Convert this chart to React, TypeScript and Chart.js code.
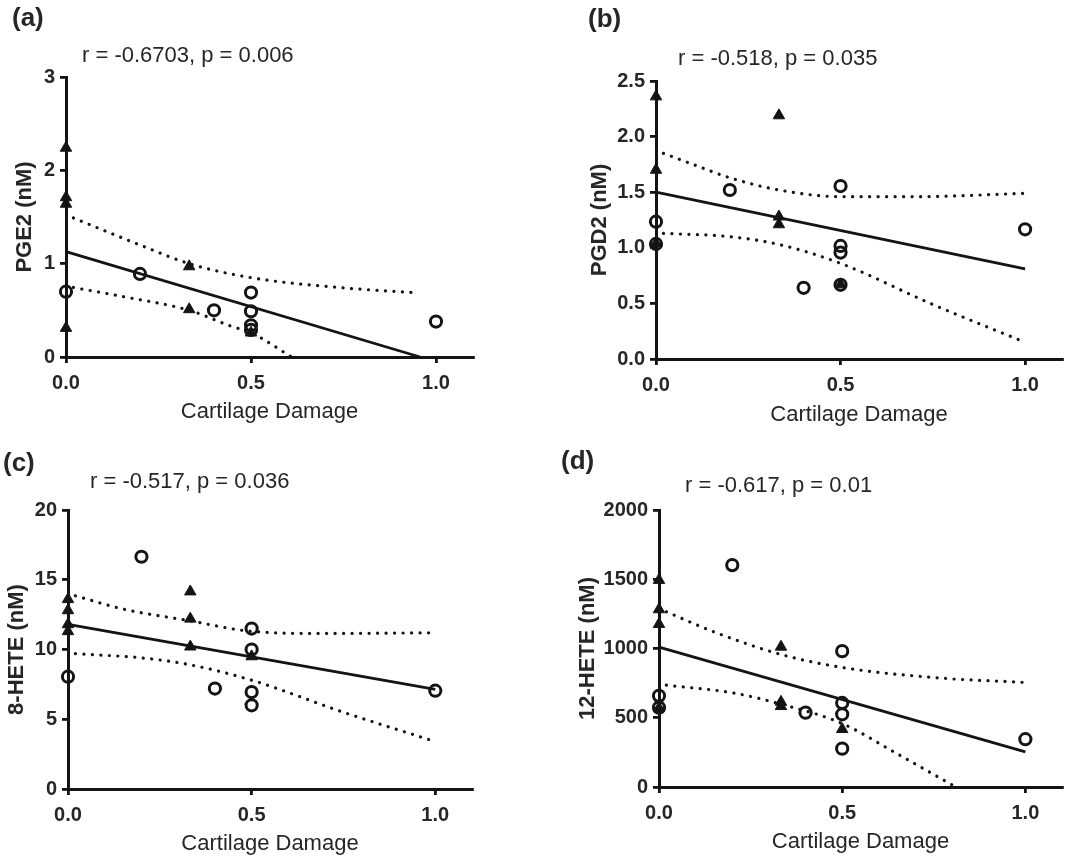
import React, { useEffect, useRef } from "react";
import { Chart, registerables } from "chart.js";
Chart.register(...registerables);

const FONT = "'Liberation Sans', Arial, Helvetica, sans-serif";
const TEXT = "#262626";
const INK = "#141414";

// ---------- shared ----------
const xTickValues = [0, 0.5, 1.0];
const xTickLabels = ["0.0", "0.5", "1.0"];
const xTitle = "Cartilage Damage";

// ---------- (a) PGE2 ----------
const aTriX = [0, 0, 0, 0, 0.333, 0.333, 0.5];
const aTriY = [2.24, 1.71, 1.64, 0.31, 0.97, 0.51, 0.26];
const aCircX = [0, 0.2, 0.4, 0.5, 0.5, 0.5, 0.5, 1.0];
const aCircY = [0.7, 0.89, 0.5, 0.69, 0.49, 0.34, 0.29, 0.38];
const aFitX = [0, 0.957];
const aFitY = [1.13, 0];
const aUpX = [0.02, 0.1, 0.2, 0.333, 0.5, 0.72, 0.94];
const aUpY = [1.49, 1.36, 1.2, 1.0, 0.85, 0.75, 0.69];
const aLoX = [0.02, 0.15, 0.333, 0.446, 0.5, 0.61];
const aLoY = [0.745, 0.65, 0.5, 0.33, 0.26, 0.0];
const aYTicks = [0, 1, 2, 3];
const aYLabels = ["0", "1", "2", "3"];

// ---------- (b) PGD2 ----------
const bTriX = [0, 0, 0, 0.333, 0.333, 0.333, 0.5];
const bTriY = [2.36, 1.7, 1.04, 2.19, 1.28, 1.21, 0.67];
const bCircX = [0, 0, 0.2, 0.4, 0.5, 0.5, 0.5, 0.5, 1.0];
const bCircY = [1.235, 1.035, 1.52, 0.64, 1.555, 1.017, 0.957, 0.667, 1.166];
const bFitX = [0, 1.0];
const bFitY = [1.5, 0.81];
const bUpX = [0.02, 0.1, 0.2, 0.333, 0.5, 0.7, 1.0];
const bUpY = [1.85, 1.75, 1.63, 1.52, 1.46, 1.46, 1.49];
const bLoX = [0.02, 0.2, 0.333, 0.5, 0.75, 1.0];
const bLoY = [1.13, 1.1, 1.03, 0.86, 0.49, 0.15];
const bYTicks = [0, 0.5, 1.0, 1.5, 2.0, 2.5];
const bYLabels = ["0.0", "0.5", "1.0", "1.5", "2.0", "2.5"];

// ---------- (c) 8-HETE ----------
const cTriX = [0, 0, 0, 0, 0.333, 0.333, 0.333, 0.5];
const cTriY = [13.6, 12.8, 11.8, 11.3, 14.15, 12.2, 10.2, 9.5];
const cCircX = [0, 0.2, 0.4, 0.5, 0.5, 0.5, 0.5, 1.0];
const cCircY = [8.05, 16.65, 7.2, 11.5, 10.0, 6.95, 6.0, 7.05];
const cFitX = [0, 1.0];
const cFitY = [11.8, 7.15];
const cUpX = [0.02, 0.15, 0.333, 0.5, 0.7, 1.0];
const cUpY = [13.85, 12.9, 12.05, 11.3, 11.15, 11.2];
const cLoX = [0.02, 0.2, 0.333, 0.5, 0.75, 1.0];
const cLoY = [9.7, 9.4, 8.9, 7.8, 5.5, 3.4];
const cYTicks = [0, 5, 10, 15, 20];
const cYLabels = ["0", "5", "10", "15", "20"];

// ---------- (d) 12-HETE ----------
const dTriX = [0, 0, 0, 0, 0.333, 0.333, 0.333, 0.5];
const dTriY = [1494, 1282, 1176, 570, 1012, 614, 583, 417];
const dCircX = [0, 0, 0.2, 0.4, 0.5, 0.5, 0.5, 0.5, 1.0];
const dCircY = [658, 573, 1602, 537, 981, 607, 525, 277, 345];
const dFitX = [0, 1.0];
const dFitY = [1010, 253];
const dUpX = [0.02, 0.15, 0.333, 0.5, 0.75, 1.0];
const dUpY = [1265, 1120, 957, 863, 790, 755];
const dLoX = [0.02, 0.2, 0.333, 0.5, 0.65, 0.81];
const dLoY = [735, 680, 598, 458, 240, 0];
const dYTicks = [0, 500, 1000, 1500, 2000];
const dYLabels = ["0", "500", "1000", "1500", "2000"];

const zip = (xs: number[], ys: number[]) => xs.map((x, i) => ({ x, y: ys[i] }));

type Panel = {
  key: string;
  label: string;
  stat: string;
  yTitle: string;
  left: number;
  top: number;
  yMax: number;
  yTicks: number[];
  yLabels: string[];
  tri: [number[], number[]];
  circ: [number[], number[]];
  fit: [number[], number[]];
  up: [number[], number[]];
  lo: [number[], number[]];
  padTop: number;
  padRight: number;
  yAxisW: number;
  xAxisH: number;
  yTitlePad: number;
  xTitlePad: number;
  labelPos: [number, number];
  statPos: [number, number];
};

const panels: Panel[] = [
  {
    key: "a", label: "(a)", stat: "r = -0.6703, p = 0.006", yTitle: "PGE2 (nM)",
    left: 0, top: 0, yMax: 3, yTicks: aYTicks, yLabels: aYLabels,
    tri: [aTriX, aTriY], circ: [aCircX, aCircY], fit: [aFitX, aFitY], up: [aUpX, aUpY], lo: [aLoX, aLoY],
    padTop: 77, padRight: 67, yAxisW: 66, xAxisH: 73, yTitlePad: 12, xTitlePad: 5,
    labelPos: [12, 4], statPos: [82, 44],
  },
  {
    key: "b", label: "(b)", stat: "r = -0.518, p = 0.035", yTitle: "PGD2 (nM)",
    left: 545, top: 0, yMax: 2.5, yTicks: bYTicks, yLabels: bYLabels,
    tri: [bTriX, bTriY], circ: [bCircX, bCircY], fit: [bFitX, bFitY], up: [bUpX, bUpY], lo: [bLoX, bLoY],
    padTop: 81, padRight: 23, yAxisW: 111, xAxisH: 71, yTitlePad: 42, xTitlePad: 2,
    labelPos: [588, 5], statPos: [678, 47],
  },
  {
    key: "c", label: "(c)", stat: "r = -0.517, p = 0.036", yTitle: "8-HETE (nM)",
    left: 0, top: 430, yMax: 20, yTicks: cYTicks, yLabels: cYLabels,
    tri: [cTriX, cTriY], circ: [cCircX, cCircY], fit: [cFitX, cFitY], up: [cUpX, cUpY], lo: [cLoX, cLoY],
    padTop: 80, padRight: 68, yAxisW: 68, xAxisH: 71, yTitlePad: 4, xTitlePad: 3,
    labelPos: [3, 449], statPos: [90, 470],
  },
  {
    key: "d", label: "(d)", stat: "r = -0.617, p = 0.01", yTitle: "12-HETE (nM)",
    left: 545, top: 430, yMax: 2000, yTicks: dYTicks, yLabels: dYLabels,
    tri: [dTriX, dTriY], circ: [dCircX, dCircY], fit: [dFitX, dFitY], up: [dUpX, dUpY], lo: [dLoX, dLoY],
    padTop: 80, padRight: 23, yAxisW: 114, xAxisH: 73, yTitlePad: 30, xTitlePad: 5,
    labelPos: [561, 447], statPos: [685, 474],
  },
];

function makeConfig(p: Panel): any {
  const dotted = {
    showLine: true,
    pointRadius: 0,
    borderColor: INK,
    borderWidth: 3.2,
    borderDash: [0.1, 8.4],
    borderCapStyle: "round",
    cubicInterpolationMode: "monotone",
    clip: false,
  };
  return {
    type: "scatter",
    data: {
      datasets: [
        {
          data: zip(p.tri[0], p.tri[1]),
          pointStyle: "triangle",
          pointRadius: 6.6,
          backgroundColor: INK,
          borderColor: INK,
          borderWidth: 1,
          showLine: false,
          clip: false,
        },
        {
          data: zip(p.circ[0], p.circ[1]),
          pointStyle: "circle",
          pointRadius: 5.6,
          backgroundColor: "rgba(0,0,0,0)",
          borderColor: INK,
          borderWidth: 3,
          showLine: false,
          clip: false,
        },
        {
          data: zip(p.fit[0], p.fit[1]),
          showLine: true,
          pointRadius: 0,
          borderColor: INK,
          borderWidth: 2.8,
          clip: false,
        },
        { ...dotted, data: zip(p.up[0], p.up[1]) },
        { ...dotted, data: zip(p.lo[0], p.lo[1]) },
      ],
    },
    options: {
      responsive: false,
      animation: false,
      devicePixelRatio: 1,
      events: [],
      layout: { padding: { left: 0, top: p.padTop, right: p.padRight, bottom: 0 } },
      plugins: { legend: { display: false }, tooltip: { enabled: false }, title: { display: false } },
      scales: {
        x: {
          type: "linear",
          min: 0,
          max: 1.1,
          afterBuildTicks: (s: any) => {
            s.ticks = xTickValues.map((v) => ({ value: v }));
          },
          afterFit: (s: any) => {
            s.height = p.xAxisH;
          },
          ticks: {
            autoSkip: false,
            maxRotation: 0,
            padding: 8,
            color: TEXT,
            font: { family: FONT, size: 20, weight: "bold" },
            callback: (_v: any, i: number) => xTickLabels[i],
          },
          grid: { drawOnChartArea: false, drawTicks: true, tickLength: 6, color: INK, lineWidth: 2.8 },
          border: { display: true, color: INK, width: 3 },
          title: {
            display: true,
            text: xTitle,
            color: TEXT,
            font: { family: FONT, size: 22, weight: "normal" },
            padding: { top: 0, bottom: p.xTitlePad },
          },
        },
        y: {
          type: "linear",
          min: 0,
          max: p.yMax,
          afterBuildTicks: (s: any) => {
            s.ticks = p.yTicks.map((v) => ({ value: v }));
          },
          afterFit: (s: any) => {
            s.width = p.yAxisW;
          },
          ticks: {
            autoSkip: false,
            padding: 5,
            color: TEXT,
            font: { family: FONT, size: 20, weight: "bold" },
            callback: (_v: any, i: number) => p.yLabels[i],
          },
          grid: { drawOnChartArea: false, drawTicks: true, tickLength: 6, color: INK, lineWidth: 2.8 },
          border: { display: true, color: INK, width: 3 },
          title: {
            display: true,
            text: p.yTitle,
            color: TEXT,
            font: { family: FONT, size: 22, weight: "bold" },
            padding: { top: p.yTitlePad, bottom: 0 },
          },
        },
      },
    },
  };
}

function PanelChart({ p }: { p: Panel }) {
  const ref = useRef<HTMLCanvasElement | null>(null);
  useEffect(() => {
    if (!ref.current) return;
    const chart = new Chart(ref.current, makeConfig(p));
    return () => chart.destroy();
  }, [p]);
  return (
    <canvas
      ref={ref}
      width={540}
      height={430}
      style={{ position: "absolute", left: p.left, top: p.top, width: 540, height: 430 }}
    />
  );
}

export default function App() {
  return (
    <div
      style={{
        position: "absolute",
        left: 0,
        top: 0,
        width: 1085,
        height: 860,
        background: "#ffffff",
        overflow: "hidden",
        fontFamily: FONT,
      }}
    >
      {panels.map((p) => (
        <PanelChart key={p.key} p={p} />
      ))}
      {panels.map((p) => (
        <div
          key={"l" + p.key}
          style={{
            position: "absolute",
            left: p.labelPos[0],
            top: p.labelPos[1],
            fontSize: 26,
            lineHeight: 1,
            fontWeight: "bold",
            color: TEXT,
            whiteSpace: "nowrap",
          }}
        >
          {p.label}
        </div>
      ))}
      {panels.map((p) => (
        <div
          key={"s" + p.key}
          style={{
            position: "absolute",
            left: p.statPos[0],
            top: p.statPos[1],
            fontSize: 22,
            lineHeight: 1,
            color: TEXT,
            whiteSpace: "nowrap",
          }}
        >
          {p.stat}
        </div>
      ))}
    </div>
  );
}
